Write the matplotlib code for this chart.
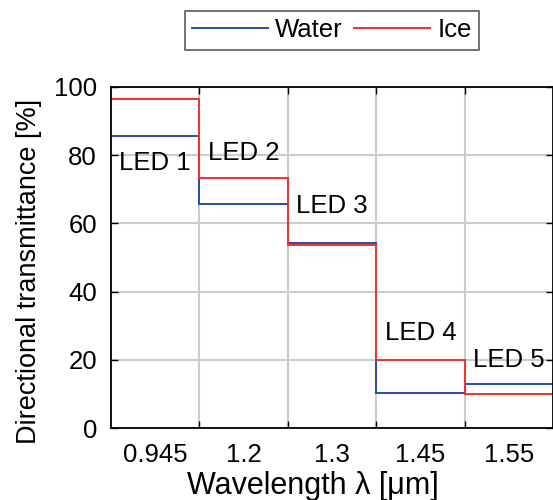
import numpy as np
from matplotlib import pyplot as plt

# transmittance per LED band, %
wavelengths = ["0.945", "1.2", "1.3", "1.45", "1.55"]
leds = ["LED 1", "LED 2", "LED 3", "LED 4", "LED 5"]
water = [85.6, 65.8, 54.3, 10.2, 12.9]
ice = [96.6, 73.2, 53.8, 20.0, 9.9]
led_label_y = [77.7, 80.6, 65.1, 27.9, 19.9]

plt.rcParams['font.family'] = ['Liberation Sans', 'DejaVu Sans']
fs = 18.5

fig = plt.figure(figsize=(5.53, 5.0), dpi=100)
ax = fig.add_axes([0.2007, 0.144, 0.7993, 0.682])

n = len(wavelengths)
edges = np.arange(n + 1) - 0.5
centers = np.arange(n)

ax.stairs(water, edges, baseline=None, color='#1f4fae', lw=1.4, label='Water')
ax.stairs(ice, edges, baseline=None, color='#ff2a2a', lw=1.4, label='Ice')

for x, lab, y in zip(centers, leds, led_label_y):
    ax.text(x, y, lab, ha='center', va='center', fontsize=fs)

ax.set_xlim(edges[0], edges[-1])
ax.set_ylim(0, 100)

# edges carry ticks + grid, centres carry the wavelength labels
ax.set_xticks(edges[1:-1])
ax.set_xticklabels([])
ax.set_xticks(centers, minor=True)
ax.set_xticklabels(wavelengths, minor=True)
ax.tick_params(axis='x', which='minor', length=0, pad=11, labelsize=fs)
ax.set_yticks([0, 20, 40, 60, 80, 100])
ax.tick_params(axis='both', which='major', direction='in', top=True, right=True,
               length=5, width=1, labelsize=fs)
ax.tick_params(axis='y', which='major', pad=10)
ax.grid(True, which='major', color='#cccccc', lw=1.5)
ax.set_axisbelow(True)
for s in ax.spines.values():
    s.set_linewidth(1.3)

ax.set_xlabel('Wavelength λ [μm]', fontsize=22)
ax.xaxis.set_label_coords(0.456, -0.127)
ax.set_ylabel('Directional transmittance [%]', fontsize=19.5)
ax.yaxis.set_label_coords(-0.155, 0.46)

leg = ax.legend(loc='center', bbox_to_anchor=(0.5, 1.166), ncol=2, frameon=True,
                fancybox=False, edgecolor='#333333', fontsize=fs, handlelength=2.95,
                handletextpad=0.27, columnspacing=0.45, borderpad=0.3,
                borderaxespad=0)
leg.get_frame().set_linewidth(1.2)

fig.savefig('out.png', dpi=100)
